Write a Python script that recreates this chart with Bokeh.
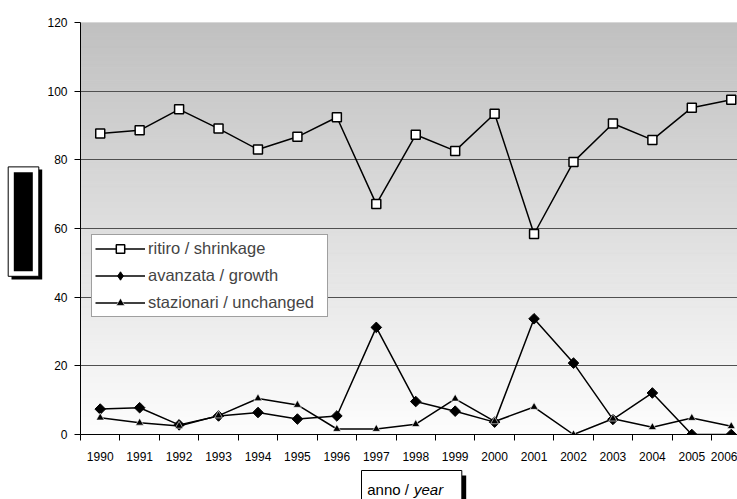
import numpy as np
from bokeh.plotting import figure
from bokeh.layouts import row, column
from bokeh.models import Range1d, FixedTicker, Label, Legend, LegendItem
from bokeh.embed import file_html
from bokeh.resources import INLINE

# ---- data ----
years = list(range(1990, 2007))
shrinkage = [87.7, 88.6, 94.7, 89.1, 83.0, 86.7, 92.4, 67.1, 87.3, 82.6, 93.4, 58.4, 79.4, 90.6, 85.8, 95.2, 97.5]
growth = [7.4, 7.8, 2.8, 5.4, 6.4, 4.5, 5.4, 31.2, 9.6, 6.8, 3.6, 33.7, 20.8, 4.4, 12.1, 0.0, 0.0]
unchanged = [4.9, 3.4, 2.5, 5.5, 10.5, 8.6, 1.6, 1.6, 3.0, 10.4, 3.8, 8.0, 0.0, 4.6, 2.1, 4.8, 2.4]
y_ticks = [0, 20, 40, 60, 80, 100, 120]
series_labels = ["ritiro / shrinkage", "avanzata / growth", "stazionari / unchanged"]
x_title_plain = "anno / "
x_title_italic = "year"

FONT = "Liberation Sans"
W, H = 737, 499
LEFT_W = 44          # width of the strip holding the y-title box
MAIN_H = 468         # height of the main chart canvas
FL, FT, FB = 79, 22, 434          # frame left / top / bottom (page px)
x_start = 1989.5
x_end = x_start + (W - FL) / 39.5
y_max = 120

# ---------------- main chart ----------------
p = figure(width=W - LEFT_W, height=MAIN_H, output_backend="svg", toolbar_location=None,
           x_range=Range1d(x_start, x_end), y_range=Range1d(0, y_max),
           min_border_left=FL - LEFT_W, min_border_right=0, min_border_top=FT,
           min_border_bottom=MAIN_H - FB)
p.outline_line_color = None
p.background_fill_color = "white"

# gradient background (grey at top, near-white at bottom)
edges = np.linspace(0, y_max, 121)
shade = np.linspace(253, 192, 120)
cols = ["#%02x%02x%02x" % (int(round(c)), int(round(c)), int(round(c))) for c in shade]
p.quad(left=x_start, right=x_end, bottom=edges[:-1], top=edges[1:],
       fill_color=cols, line_color=cols, line_width=1, level="image")

boundaries = [y - 0.5 for y in years] + [years[-1] + 0.5]
p.xaxis.ticker = FixedTicker(ticks=years, minor_ticks=boundaries)
p.xaxis.major_tick_out = 0
p.xaxis.major_tick_in = 0
p.xaxis.minor_tick_out = 6
p.xaxis.minor_tick_in = 0
p.xaxis.minor_tick_line_color = "black"
p.xaxis.major_label_standoff = 11
p.yaxis.ticker = FixedTicker(ticks=y_ticks, minor_ticks=[])
p.yaxis.major_tick_out = 6
p.yaxis.major_tick_in = 0
p.yaxis.major_label_standoff = 7
for ax in (p.xaxis, p.yaxis):
    ax.axis_line_color = "black"
    ax.major_tick_line_color = "black"
    ax.major_label_text_font = FONT
    ax.major_label_text_font_size = "12px"
    ax.major_label_text_color = "black"
p.xgrid.visible = False
p.ygrid.ticker = FixedTicker(ticks=y_ticks)
p.ygrid.grid_line_color = "#505050"
p.ygrid.grid_line_width = 1

l1 = p.line(years, shrinkage, line_color="black", line_width=1.5)
s1 = p.scatter(years, shrinkage, marker="square", size=9, fill_color="white",
               line_color="black", line_width=1.5)
l2 = p.line(years, growth, line_color="black", line_width=1.5)
s2 = p.scatter(years, growth, marker="square", angle=np.pi / 4, size=7.5,
               fill_color="black", line_color="black", line_width=1)
s2_leg = p.scatter([np.nan], [np.nan], marker="diamond", size=12, fill_color="black",
                   line_color="black", line_width=1)
l3 = p.line(years, unchanged, line_color="black", line_width=1.5)
s3 = p.scatter(years, unchanged, marker="triangle", size=8, fill_color="black",
               line_color="white", line_width=0.6)

legend = Legend(items=[LegendItem(label=series_labels[0], renderers=[l1, s1]),
                       LegendItem(label=series_labels[1], renderers=[l2, s2_leg]),
                       LegendItem(label=series_labels[2], renderers=[l3, s3])],
                location=(11, 117), label_text_font=FONT, label_text_font_size="16.5px",
                glyph_width=50, glyph_height=21, label_height=20, label_width=176,
                spacing=6, padding=3, margin=0, label_standoff=3,
                border_line_color="#404040", border_line_width=1,
                background_fill_color="white", background_fill_alpha=1)
p.add_layout(legend)


def blank(width, height, x0, x1, y0, y1):
    f = figure(width=width, height=height, output_backend="svg", toolbar_location=None,
               x_range=Range1d(x0, x1), y_range=Range1d(y1, y0),
               min_border=0, x_axis_location=None, y_axis_location=None)
    f.grid.visible = False
    f.outline_line_color = None
    f.background_fill_color = "white"
    f.border_fill_color = "white"
    return f


# ---------------- y-title strip (text box rendered as a black block) ----------------
yl = blank(LEFT_W, MAIN_H, 0, LEFT_W, 0, MAIN_H)
yl.quad(left=[11], right=[41.7], top=[167], bottom=[292], fill_color="black", line_color=None)
yl.quad(left=[7.7], right=[38.3], top=[164], bottom=[288.3], fill_color="white",
        line_color="black", line_width=1)
yl.quad(left=[13.3], right=[32.3], top=[170], bottom=[282.7], fill_color="black", line_color=None)

# ---------------- x-title strip ----------------
xl = blank(W, H - MAIN_H, 0, W, MAIN_H, H)
xl.quad(left=[461.3], right=[465.7], top=[475], bottom=[510], fill_color="black", line_color=None)
xl.quad(left=[361], right=[461.3], top=[470], bottom=[510], fill_color="white",
        line_color="black", line_width=1)
xl.add_layout(Label(x=366.7, y=489, text=x_title_plain, text_font=FONT,
                    text_font_size="15px", text_baseline="alphabetic", text_color="black"))
xl.add_layout(Label(x=413.5, y=489, text=x_title_italic, text_font=FONT,
                    text_font_size="15px", text_font_style="italic",
                    text_baseline="alphabetic", text_color="black"))

layout = column(row(yl, p, spacing=0), xl, spacing=0)
open("out.html", "w").write(file_html(layout, INLINE))
